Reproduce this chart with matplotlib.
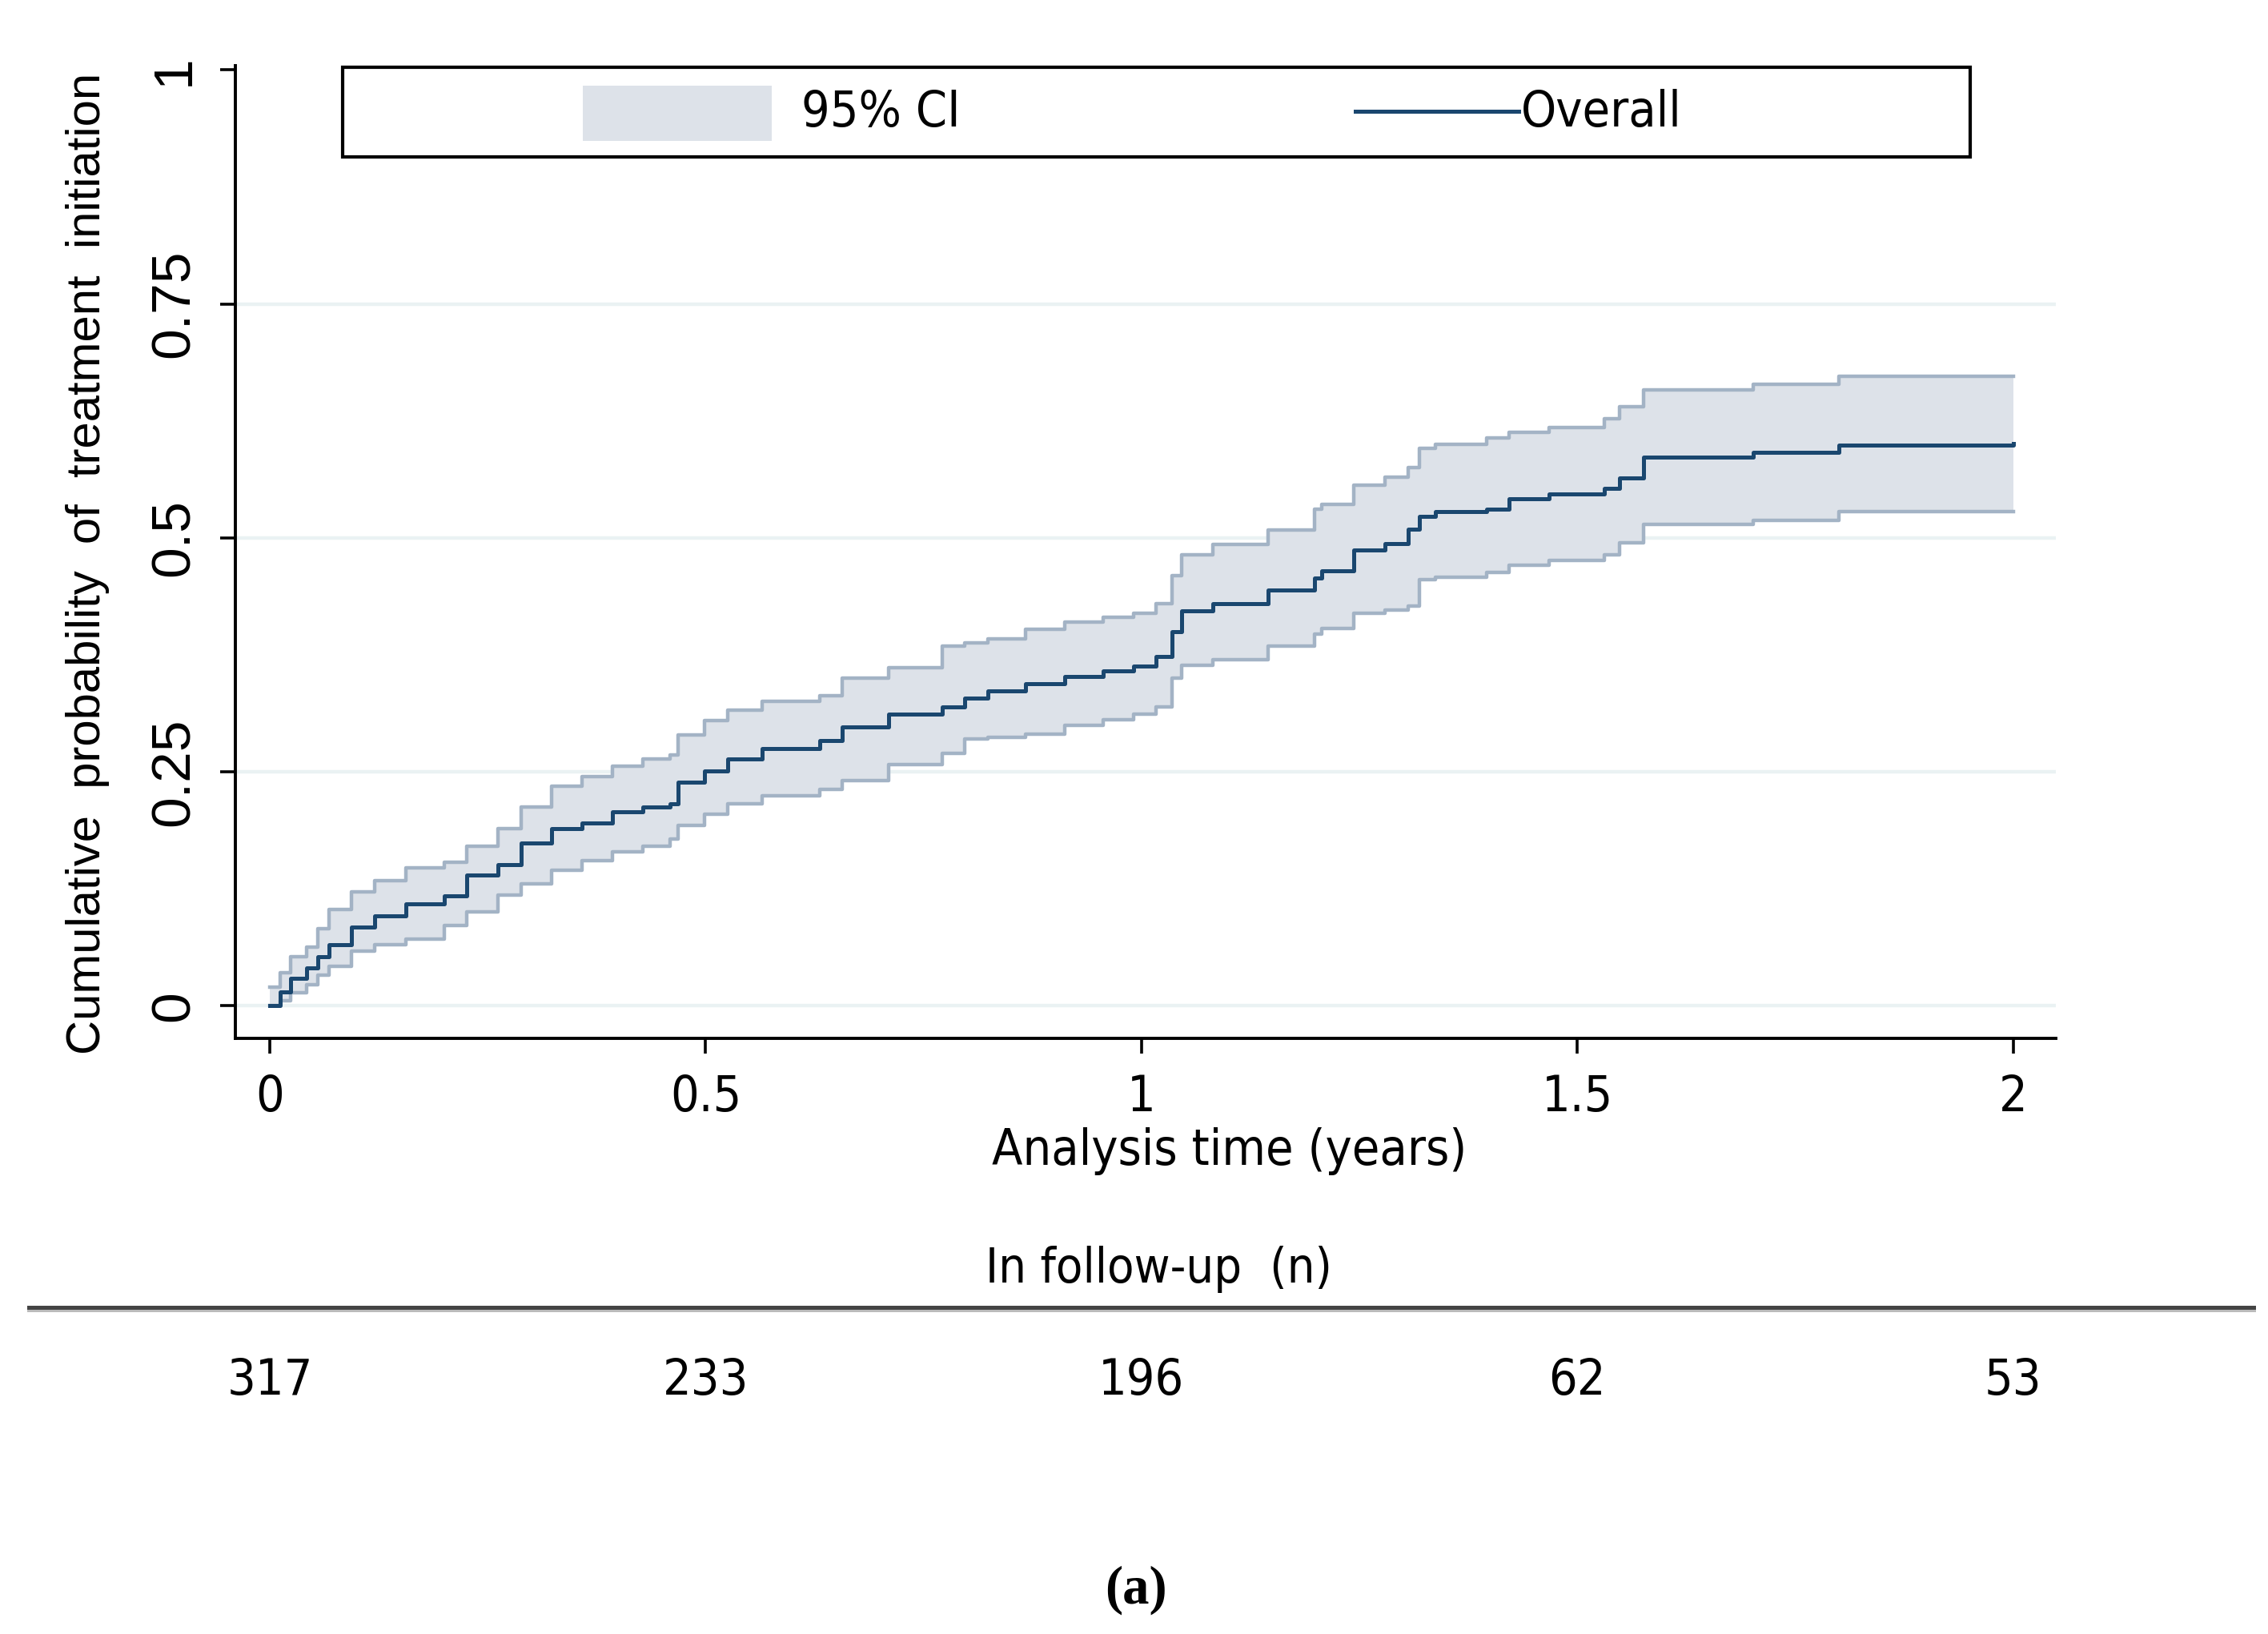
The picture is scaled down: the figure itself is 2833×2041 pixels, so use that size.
import matplotlib
matplotlib.use("Agg")
import matplotlib.pyplot as plt
from matplotlib.patches import Rectangle
from matplotlib.lines import Line2D

# step times (years) and cumulative probability with 95% CI
times = [0.000, 0.012, 0.024, 0.042, 0.055, 0.068, 0.094, 0.120, 0.156, 0.200,
         0.226, 0.262, 0.288, 0.323, 0.358, 0.393, 0.428, 0.459, 0.468, 0.499,
         0.525, 0.565, 0.631, 0.657, 0.710, 0.771, 0.797, 0.824, 0.867, 0.912,
         0.956, 0.991, 1.017, 1.035, 1.046, 1.082, 1.145, 1.198, 1.207, 1.243,
         1.279, 1.306, 1.319, 1.337, 1.396, 1.422, 1.468, 1.531, 1.548, 1.576,
         1.702, 1.800, 2.000]
overall = [0.000, 0.015, 0.029, 0.040, 0.052, 0.065, 0.084, 0.096, 0.109, 0.117,
           0.140, 0.151, 0.174, 0.189, 0.195, 0.207, 0.212, 0.216, 0.239, 0.251,
           0.264, 0.275, 0.283, 0.298, 0.312, 0.319, 0.329, 0.336, 0.344, 0.352,
           0.358, 0.363, 0.373, 0.400, 0.422, 0.430, 0.444, 0.457, 0.465, 0.487,
           0.494, 0.509, 0.523, 0.528, 0.531, 0.542, 0.547, 0.553, 0.564, 0.586,
           0.591, 0.599, 0.601]
ci_low = [0.000, 0.005, 0.014, 0.022, 0.033, 0.042, 0.058, 0.065, 0.071, 0.086,
          0.100, 0.118, 0.130, 0.145, 0.155, 0.164, 0.170, 0.178, 0.193, 0.205,
          0.216, 0.224, 0.231, 0.241, 0.258, 0.270, 0.285, 0.287, 0.290, 0.300,
          0.306, 0.312, 0.319, 0.350, 0.364, 0.370, 0.384, 0.397, 0.403, 0.419,
          0.423, 0.427, 0.455, 0.458, 0.463, 0.471, 0.476, 0.482, 0.495, 0.514,
          0.519, 0.528, 0.528]
ci_high = [0.020, 0.035, 0.052, 0.063, 0.082, 0.103, 0.122, 0.134, 0.147, 0.153,
           0.170, 0.189, 0.212, 0.235, 0.245, 0.256, 0.264, 0.268, 0.289, 0.305,
           0.316, 0.325, 0.331, 0.350, 0.361, 0.384, 0.388, 0.392, 0.402, 0.410,
           0.415, 0.419, 0.430, 0.460, 0.482, 0.493, 0.508, 0.531, 0.536, 0.556,
           0.565, 0.575, 0.596, 0.600, 0.607, 0.613, 0.618, 0.627, 0.640, 0.658,
           0.664, 0.673, 0.673]

xticks = [0, 0.5, 1, 1.5, 2]
xtick_labels = ["0", "0.5", "1", "1.5", "2"]
yticks = [0, 0.25, 0.5, 0.75, 1]
ytick_labels = ["0", "0.25", "0.5", "0.75", "1"]
at_risk = [317, 233, 196, 62, 53]

narrow = dict(family=["DejaVu Sans", "Liberation Sans"], stretch="condensed")
wide = ["Liberation Sans", "DejaVu Sans"]

navy = "#1a476f"
ci_fill = "#dde2e9"
ci_edge = "#a3b3c5"
grid_c = "#eaf2f3"

fig = plt.figure(figsize=(2833 / 200, 2041 / 200), dpi=200)
ax = fig.add_axes([0.1038, 0.3645, 0.8027, 0.5955])

ax.fill_between(times, ci_low, ci_high, step="post", color=ci_fill, lw=0, zorder=2)
ax.step(times, ci_low, where="post", color=ci_edge, lw=1.6, zorder=3)
ax.step(times, ci_high, where="post", color=ci_edge, lw=1.6, zorder=3)
ax.step(times, overall, where="post", color=navy, lw=1.8, zorder=4)

ax.set_xlim(-0.0395, 2.049)
ax.set_ylim(-0.035, 1.005)
ax.set_xticks(xticks)
ax.set_xticklabels(xtick_labels, fontsize=22.5, **narrow)
ax.set_yticks(yticks)
ax.set_yticklabels(ytick_labels, family=wide, fontsize=25, rotation=90,
                   va="center", ha="right")
ax.tick_params(direction="out", length=7, width=1.3, color="black", pad=9)
ax.tick_params(axis="y", pad=9)
ax.grid(axis="y", color=grid_c, lw=1.6, zorder=0)
ax.get_ygridlines()[-1].set_visible(False)
ax.set_axisbelow(True)
for side in ["top", "right"]:
    ax.spines[side].set_visible(False)
for side in ["left", "bottom"]:
    ax.spines[side].set_linewidth(1.4)

# legend box drawn by hand to copy the Stata layout
ax.add_patch(Rectangle((0.059, 0.906), 0.894, 0.092, transform=ax.transAxes,
                       fill=False, ec="black", lw=1.5, clip_on=False, zorder=5))
ax.add_patch(Rectangle((0.191, 0.9226), 0.1036, 0.0564, transform=ax.transAxes,
                       fc=ci_fill, ec="none", clip_on=False, zorder=5))
ax.text(0.311, 0.951, "95% CI", transform=ax.transAxes, fontsize=22.5,
        va="center", ha="left", **narrow)
ax.add_line(Line2D([0.615, 0.705], [0.953, 0.953], transform=ax.transAxes,
                   color=navy, lw=1.8, clip_on=False, zorder=5))
ax.text(0.706, 0.951, "Overall", transform=ax.transAxes, fontsize=22.5,
        va="center", ha="left", **narrow)

fig.text(0.542, 0.2954, "Analysis time (years)", fontsize=22.5,
         ha="center", va="center", **narrow)
fig.text(0.0385, 0.655, "Cumulative  probability  of  treatment  initiation",
         family=wide, fontsize=21.5, rotation=90, ha="center", va="center")

# number in follow-up table
fig.text(0.511, 0.2234, "In follow-up  (n)", fontsize=22,
         ha="center", va="center", **narrow)
fig.add_artist(Line2D([0.0127, 0.9936], [0.1985, 0.1985], color="#bbbbbb", lw=1.8))
fig.add_artist(Line2D([0.0127, 0.9936], [0.2000, 0.2000], color="#444444", lw=1.8))
tab = fig.add_axes([0.1038, 0.13, 0.8027, 0.05])
tab.set_xlim(ax.get_xlim())
tab.set_ylim(0, 1)
tab.axis("off")
for x, n in zip(xticks, at_risk):
    tab.text(x, 0.5, str(n), fontsize=22.5, ha="center", va="center", **narrow)

fig.text(0.501, 0.027, "(a)", family=["Liberation Serif", "DejaVu Serif"],
         fontsize=24, fontweight="bold", ha="center", va="center")

fig.savefig("out.png", dpi=200, facecolor="white")
